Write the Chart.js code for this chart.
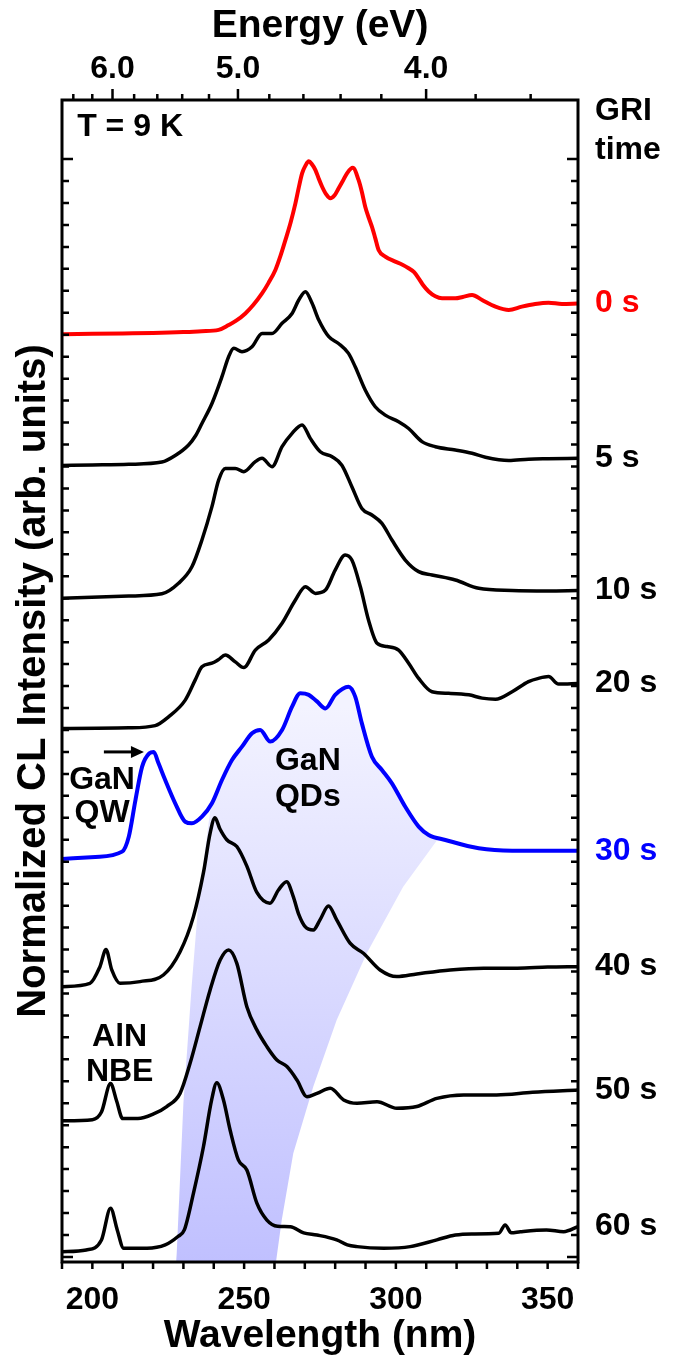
<!DOCTYPE html>
<html>
<head>
<meta charset="utf-8">
<script src="https://cdn.jsdelivr.net/npm/chart.js@4.4.1/dist/chart.umd.min.js"></script>
<style>
  html, body { margin: 0; padding: 0; background: #fff; }
</style>
</head>
<body>
<canvas id="cl" width="677" height="1360"></canvas>
<script>
// ---------------------------------------------------------------
// Data (offset CL spectra)
// ---------------------------------------------------------------
const HC = 1239.84; // eV*nm

const wl0 = [190, 200, 210, 220, 230, 236, 241.6, 244.9, 247.5, 250.4, 253, 255.9, 258, 260.3, 262, 263.6, 265.3, 266.9, 268, 269.1, 270.2, 271.3, 272.4, 273.5, 274.6, 275.7, 277, 278.4, 279.8, 281.1, 282.5, 283.9, 285.8, 287.7, 288.8, 289.9, 291, 292.1, 293.2, 294.3, 296.5, 299.8, 302, 304.2, 306, 307.5, 309, 310.8, 313, 315.2, 319.6, 322, 325.1, 328.4, 332.8, 337.2, 341.5, 345.9, 350.3, 354.7, 360];
const cl0 = [42.02, 42.04, 42.06, 42.08, 42.12, 42.16, 42.22, 42.44, 42.65, 42.97, 43.35, 43.88, 44.35, 44.95, 45.6, 46.31, 47.1, 47.98, 48.7, 49.35, 49.7, 49.9, 49.75, 49.5, 49.1, 48.74, 48.4, 48.21, 48.35, 48.66, 49.0, 49.35, 49.6, 49.05, 48.5, 47.83, 47.35, 46.92, 46.4, 45.86, 45.56, 45.33, 45.2, 45.03, 44.85, 44.57, 44.25, 43.97, 43.75, 43.66, 43.66, 43.72, 43.81, 43.58, 43.28, 43.13, 43.28, 43.4, 43.46, 43.4, 43.42];

const wl5 = [190, 200, 212, 222.9, 227.3, 231.7, 234, 236.1, 239.4, 242.7, 244.9, 246.6, 249.3, 252.6, 255.9, 259.2, 262.5, 265.8, 268, 270.2, 272.4, 274.6, 277.9, 281.1, 284.4, 286.6, 289.9, 293.2, 296.5, 300.9, 304.2, 308.6, 313, 319.6, 325.1, 329.5, 337.2, 343.7, 350, 360];
const cl5 = [36.05, 36.07, 36.1, 36.2, 36.5, 36.98, 37.4, 37.96, 38.87, 40.09, 41.0, 41.38, 41.23, 41.45, 42.06, 42.06, 42.52, 42.97, 43.58, 43.96, 43.43, 42.67, 41.91, 41.6, 41.15, 40.54, 39.48, 38.72, 38.34, 38.04, 37.73, 37.13, 36.9, 36.75, 36.6, 36.42, 36.27, 36.33, 36.35, 36.37];

const wl10 = [190, 212, 222.9, 228.4, 232.8, 236.1, 239.4, 241.6, 243.8, 247.1, 249.9, 253.7, 255.9, 259.2, 262.5, 265.8, 269.1, 271.8, 275.1, 279, 282.2, 285.5, 288.8, 292.1, 295.4, 298.7, 303.1, 307.5, 311.9, 319.6, 327.3, 338.3, 350, 360];
const cl10 = [30.0, 30.1, 30.2, 30.68, 31.43, 32.65, 34.17, 35.38, 35.91, 35.91, 35.76, 36.22, 36.37, 35.99, 36.9, 37.51, 37.89, 37.28, 36.67, 36.44, 36.06, 35.08, 34.09, 33.79, 33.41, 32.65, 31.74, 31.21, 31.06, 30.83, 30.45, 30.35, 30.33, 30.35];

const wl20 = [190, 212, 220.7, 225.1, 230.6, 233.9, 236.1, 239.4, 241.5, 243.8, 247.1, 249.9, 253.7, 258.1, 262.5, 266.9, 270.2, 273.5, 276.8, 280, 283.3, 285.5, 288.3, 291, 293.8, 297.1, 300.9, 304.2, 307.5, 311.9, 317.4, 324, 328.4, 332.8, 338.3, 343.7, 347, 350.3, 353.6, 360];
const cl20 = [24.07, 24.1, 24.2, 24.6, 25.36, 26.28, 26.88, 27.04, 27.2, 27.41, 27.1, 26.84, 27.64, 28.1, 28.86, 29.92, 30.52, 30.22, 30.37, 31.28, 31.97, 31.74, 30.52, 29.0, 27.95, 27.8, 27.64, 27.04, 26.35, 25.74, 25.67, 25.6, 25.45, 25.4, 25.74, 26.2, 26.35, 26.43, 26.09, 26.12];

const wl30 = [190, 201, 209.8, 212, 214.2, 216.4, 218.8, 220.2, 221.8, 224, 227.3, 230.6, 232.8, 236.1, 239.4, 242.7, 246, 249.3, 252.6, 255.3, 258.6, 262.5, 265.8, 268.5, 271.3, 274, 276.8, 280, 284.4, 286.6, 288.8, 292.1, 295.4, 298.7, 303.1, 307.5, 310.8, 316.3, 327.3, 338.3, 360];
const cl30 = [18.12, 18.22, 18.46, 19.14, 20.81, 22.33, 22.94, 23.0, 22.48, 21.72, 20.66, 19.82, 19.75, 20.05, 20.66, 21.72, 22.63, 23.24, 23.85, 24.0, 23.47, 24.0, 25.06, 25.67, 25.6, 25.3, 24.98, 25.6, 25.97, 25.52, 24.3, 22.78, 22.18, 21.57, 20.5, 19.6, 19.22, 18.99, 18.61, 18.5, 18.5];

const wl40 = [190, 199.2, 202.5, 204.5, 206.4, 209.1, 215.7, 223.4, 228.9, 233.3, 236.6, 238.8, 240.4, 242, 244.3, 247.6, 250.9, 254.2, 258.5, 261.3, 264, 266.2, 268, 270.1, 272.8, 275, 277.8, 280.5, 284.9, 289.3, 294.8, 300.3, 306.9, 317.9, 328.9, 340, 350, 360];
const cl40 = [12.31, 12.46, 13.22, 14.0, 13.07, 12.46, 12.54, 12.84, 13.9, 15.5, 17.5, 19.3, 20.0, 19.5, 19.0, 18.69, 17.8, 16.6, 16.11, 16.71, 17.09, 16.41, 15.6, 15.04, 14.89, 15.35, 15.98, 15.35, 14.29, 13.83, 13.07, 12.77, 12.89, 13.07, 13.15, 13.15, 13.2, 13.22];

const wl50 = [190, 200, 203, 206, 208, 210, 215, 220, 224.5, 228.9, 232.2, 235.5, 238.8, 242.1, 244.9, 247.6, 250.9, 254.2, 257.5, 260.8, 264.1, 267.4, 270.7, 274, 278.4, 282.8, 287.2, 293.8, 300.3, 306.9, 313.5, 322.3, 333.2, 345, 360];
const cl50 = [6.2, 6.25, 6.6, 7.9, 7.1, 6.3, 6.3, 6.5, 6.85, 7.45, 8.82, 10.49, 12.16, 13.52, 13.98, 13.37, 11.4, 10.34, 9.58, 8.97, 8.67, 8.06, 7.3, 7.45, 7.68, 7.15, 7.0, 7.07, 6.77, 6.85, 7.22, 7.38, 7.38, 7.5, 7.6];

const wl60 = [190, 198, 203, 206, 208.2, 210.3, 218, 224, 228.2, 230.3, 233.3, 236.6, 239.3, 241, 243.2, 245.4, 248.1, 250.9, 254.2, 257.5, 261, 265.2, 269.6, 274, 280.5, 284, 287.2, 296, 304.7, 313.5, 319.6, 325, 333.9, 336, 338, 341, 349.6, 355.3, 360];
const cl60 = [0.24, 0.32, 0.77, 2.22, 1.23, 0.4, 0.4, 0.55, 0.93, 1.23, 2.9, 5.02, 7.15, 7.93, 7.15, 5.77, 4.42, 3.96, 2.45, 1.68, 1.4, 1.38, 1.1, 1.0, 0.78, 0.55, 0.47, 0.4, 0.47, 0.78, 1.0, 1.05, 1.08, 1.46, 1.1, 1.15, 1.23, 1.15, 1.38];

const griTimes = ['0 s', '5 s', '10 s', '20 s', '30 s', '40 s', '50 s', '60 s'];

// GaN QD band: edges as [wavelength, offset intensity], top to bottom
const bandLeft  = [[239.1, 20.62], [235.0, 16.26], [232.7, 12.3], [230.0, 7.01], [227.8, 0.18], [227.6, -0.23]];
const bandRight = [[314.1, 19.08], [302.4, 16.86], [290.4, 13.83], [280.5, 10.79], [272.8, 7.76], [266.2, 4.72], [262.4, 1.68], [260.5, -0.23]];

// axis ticks
const wlTicks     = [190, 200, 210, 220, 230, 240, 250, 260, 270, 280, 290, 300, 310, 320, 330, 340, 350, 360];
const wlLabels    = [200, 250, 300, 350];
const energyTicks = [6.4, 6.2, 6.0, 5.8, 5.6, 5.4, 5.2, 5.0, 4.8, 4.6, 4.4, 4.2, 4.0, 3.8, 3.6];
const energyLabels = [6.0, 5.0, 4.0];

// ---------------------------------------------------------------
const FONT = "'Liberation Sans', Arial, sans-serif";
const series = [
  { wl: wl0,  cl: cl0,  color: '#ff0000', w: 4 },
  { wl: wl5,  cl: cl5,  color: '#000000', w: 3.5 },
  { wl: wl10, cl: cl10, color: '#000000', w: 3.5 },
  { wl: wl20, cl: cl20, color: '#000000', w: 3.5 },
  { wl: wl30, cl: cl30, color: '#0000ff', w: 4 },
  { wl: wl40, cl: cl40, color: '#000000', w: 3.5 },
  { wl: wl50, cl: cl50, color: '#000000', w: 3.5 },
  { wl: wl60, cl: cl60, color: '#000000', w: 3.5 },
];

const datasets = series.map((s, i) => ({
  label: griTimes[i],
  data: s.wl.map((x, j) => ({ x, y: s.cl[j] })),
  borderColor: s.color,
  borderWidth: s.w,
  pointRadius: 0,
  cubicInterpolationMode: 'monotone',
  borderJoinStyle: 'round',
  fill: false,
}));

function text(ctx, str, x, y, color, align) {
  ctx.fillStyle = color || '#000';
  ctx.textAlign = align || 'left';
  ctx.textBaseline = 'middle';
  ctx.fillText(str, x, y);
}

const decor = {
  id: 'decor',
  beforeDatasetsDraw(chart) {
    const { ctx, chartArea: a } = chart;
    const xs = chart.scales.x, ys = chart.scales.y;
    const px = (p) => [xs.getPixelForValue(p[0]), ys.getPixelForValue(p[1])];
    const lo = bandLeft[0][0], hi = bandRight[0][0];
    const pts = [bandLeft[0]];
    wl30.forEach((w, j) => { if (w > lo && w < hi) pts.push([w, cl30[j]]); });
    bandRight.forEach(p => pts.push(p));
    bandLeft.slice().reverse().forEach(p => pts.push(p));
    ctx.save();
    ctx.beginPath();
    ctx.rect(a.left, a.top, a.right - a.left, a.bottom - a.top);
    ctx.clip();
    const g = ctx.createLinearGradient(0, ys.getPixelForValue(25), 0, a.bottom);
    g.addColorStop(0, 'rgb(243,243,255)');
    g.addColorStop(1, 'rgb(192,192,255)');
    ctx.fillStyle = g;
    ctx.beginPath();
    pts.forEach((p, k) => { const [x, y] = px(p); k ? ctx.lineTo(x, y) : ctx.moveTo(x, y); });
    ctx.closePath();
    ctx.fill();
    ctx.restore();
  },
  afterDatasetsDraw(chart) {
    const { ctx, chartArea: a } = chart;
    const xs = chart.scales.x, ys = chart.scales.y;
    ctx.save();
    ctx.strokeStyle = '#000';
    ctx.lineWidth = 3;
    ctx.strokeRect(a.left, a.top, a.right - a.left, a.bottom - a.top);

    ctx.lineWidth = 2.5;
    ctx.beginPath();
    // bottom ticks (outward)
    wlTicks.forEach(v => {
      const x = xs.getPixelForValue(v);
      ctx.moveTo(x, a.bottom); ctx.lineTo(x, a.bottom + 7);
    });
    // top energy ticks (outward)
    energyTicks.forEach(e => {
      const x = xs.getPixelForValue(HC / e);
      const len = energyLabels.includes(e) ? 11 : 6;
      ctx.moveTo(x, a.top); ctx.lineTo(x, a.top - len);
    });
    // left / right ticks (inward)
    for (let v = 0; v <= 50; v++) {
      const y = ys.getPixelForValue(v);
      const len = (v === 0 || v === 50) ? 11 : 7;
      ctx.moveTo(a.left, y); ctx.lineTo(a.left + len, y);
      ctx.moveTo(a.right, y); ctx.lineTo(a.right - len, y);
    }
    ctx.stroke();

    // GRI time labels at the end of each spectrum
    ctx.font = 'bold 32px ' + FONT;
    series.forEach((s, i) => {
      const y = ys.getPixelForValue(s.cl[s.cl.length - 1]);
      text(ctx, griTimes[i], a.right + 17, y, s.color);
    });
    text(ctx, 'GRI', a.right + 17, ys.getPixelForValue(52.2));
    text(ctx, 'time', a.right + 17, ys.getPixelForValue(50.4));

    // annotations
    text(ctx, 'T = 9 K', xs.getPixelForValue(195), ys.getPixelForValue(51.45));
    text(ctx, 'GaN', xs.getPixelForValue(203.2), ys.getPixelForValue(21.7), '#000', 'center');
    text(ctx, 'QW', xs.getPixelForValue(203.2), ys.getPixelForValue(20.2), '#000', 'center');
    text(ctx, 'GaN', xs.getPixelForValue(271), ys.getPixelForValue(22.6), '#000', 'center');
    text(ctx, 'QDs', xs.getPixelForValue(271), ys.getPixelForValue(20.95), '#000', 'center');
    text(ctx, 'AlN', xs.getPixelForValue(209), ys.getPixelForValue(10.0), '#000', 'center');
    text(ctx, 'NBE', xs.getPixelForValue(209), ys.getPixelForValue(8.4), '#000', 'center');

    // arrow pointing at the GaN QW peak
    const ay = ys.getPixelForValue(23.0);
    const ax1 = xs.getPixelForValue(203.8), ax2 = xs.getPixelForValue(217.0);
    ctx.lineWidth = 3;
    ctx.beginPath();
    ctx.moveTo(ax1, ay); ctx.lineTo(ax2 - 10, ay);
    ctx.stroke();
    ctx.fillStyle = '#000';
    ctx.beginPath();
    ctx.moveTo(ax2, ay); ctx.lineTo(ax2 - 13, ay - 6); ctx.lineTo(ax2 - 13, ay + 6);
    ctx.closePath();
    ctx.fill();
    ctx.restore();
  }
};

const hiddenGrid = { display: false, drawTicks: false };

new Chart(document.getElementById('cl'), {
  type: 'line',
  data: { datasets },
  options: {
    responsive: false,
    animation: false,
    devicePixelRatio: 1,
    layout: { padding: { left: 0, right: 99, top: 0, bottom: 0 } },
    plugins: { legend: { display: false }, tooltip: { enabled: false } },
    scales: {
      x: {
        type: 'linear', position: 'bottom', min: 190, max: 360,
        grid: hiddenGrid, border: { display: false },
        afterBuildTicks: (s) => { s.ticks = wlLabels.map(v => ({ value: v })); },
        ticks: { color: '#000', padding: 19, maxRotation: 0, autoSkip: false,
                 font: { family: FONT, size: 32, weight: 'bold' } },
        title: { display: true, text: 'Wavelength (nm)', color: '#000', padding: { top: 0, bottom: 0 },
                 font: { family: FONT, size: 39, weight: 'bold' } },
        afterFit: (s) => { s.height = 98; },
      },
      x2: {
        type: 'linear', position: 'top', min: 190, max: 360,
        grid: hiddenGrid, border: { display: false },
        afterBuildTicks: (s) => { s.ticks = energyLabels.map(e => ({ value: HC / e })); },
        ticks: { color: '#000', padding: 12, maxRotation: 0, autoSkip: false,
                 font: { family: FONT, size: 32, weight: 'bold' },
                 callback: (v) => (HC / v).toFixed(1) },
        title: { display: true, text: 'Energy (eV)', color: '#000', padding: { top: 3, bottom: 0 },
                 font: { family: FONT, size: 39, weight: 'bold' } },
        afterFit: (s) => { s.height = 100; },
      },
      y: {
        type: 'linear', position: 'left', min: -0.23, max: 52.69,
        grid: hiddenGrid, border: { display: false },
        ticks: { display: false },
        title: { display: true, text: 'Normalized CL Intensity (arb. units)', color: '#000',
                 padding: { top: 10, bottom: 0 },
                 font: { family: FONT, size: 40, weight: 'bold' } },
        afterFit: (s) => { s.width = 62; },
      },
    },
  },
  plugins: [decor],
});
</script>
</body>
</html>
